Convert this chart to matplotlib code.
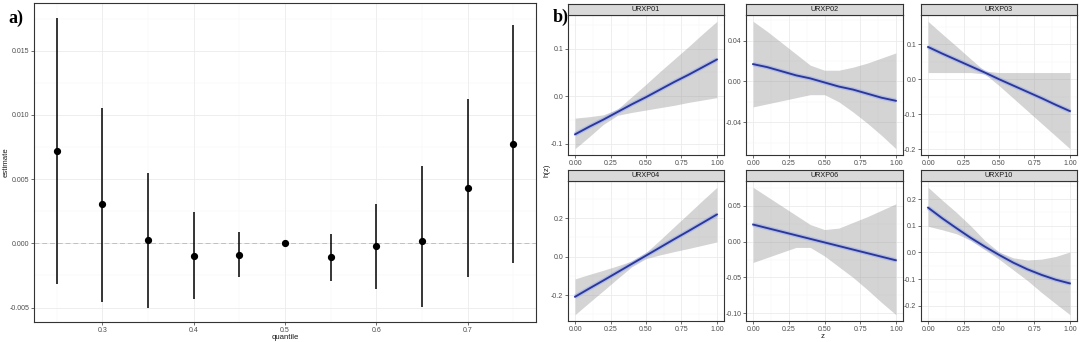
import matplotlib
matplotlib.use('Agg')
import matplotlib.pyplot as plt
from matplotlib.ticker import MultipleLocator, FixedLocator
import numpy as np

# ---------------- data: panel a ----------------
quantile = [0.25, 0.30, 0.35, 0.40, 0.45, 0.50, 0.55, 0.60, 0.65, 0.70, 0.75]
estimate = [0.00719, 0.00304, 0.00023, -0.00099, -0.00091, 0.0, -0.00109, -0.00023, 0.00016, 0.00431, 0.00771]
est_low = [-0.00319, -0.00457, -0.00500, -0.00436, -0.00262, 0.0, -0.00296, -0.00356, -0.00498, -0.00262, -0.00153]
est_high = [0.01758, 0.01057, 0.00551, 0.00244, 0.00088, 0.0, 0.00070, 0.00306, 0.00605, 0.01121, 0.01698]

# ---------------- data: panel b ----------------
z = [0.0, 0.1, 0.2, 0.3, 0.4, 0.5, 0.6, 0.7, 0.8, 0.9, 1.0]
variables = ["URXP01", "URXP02", "URXP03", "URXP04", "URXP06", "URXP10"]

urxp01_est = [-0.080, -0.064, -0.049, -0.033, -0.017, -0.002, 0.014, 0.030, 0.045, 0.061, 0.077]
urxp01_low = [-0.110, -0.085, -0.059, -0.040, -0.034, -0.029, -0.024, -0.019, -0.013, -0.008, -0.003]
urxp01_up = [-0.046, -0.043, -0.039, -0.027, -0.001, 0.025, 0.052, 0.078, 0.104, 0.131, 0.157]

urxp02_est = [0.017, 0.014, 0.010, 0.006, 0.003, -0.001, -0.005, -0.008, -0.012, -0.016, -0.019]
urxp02_low = [-0.025, -0.022, -0.019, -0.016, -0.013, -0.013, -0.020, -0.030, -0.041, -0.053, -0.066]
urxp02_up = [0.059, 0.049, 0.038, 0.027, 0.016, 0.011, 0.011, 0.014, 0.018, 0.023, 0.028]

urxp03_est = [0.092, 0.073, 0.055, 0.037, 0.019, 0.000, -0.018, -0.036, -0.054, -0.073, -0.091]
urxp03_low = [0.019, 0.019, 0.019, 0.019, 0.015, -0.018, -0.054, -0.090, -0.126, -0.162, -0.198]
urxp03_up = [0.165, 0.129, 0.094, 0.058, 0.023, 0.019, 0.019, 0.019, 0.019, 0.019, 0.019]

urxp04_est = [-0.209, -0.166, -0.124, -0.081, -0.038, 0.005, 0.048, 0.091, 0.133, 0.176, 0.219]
urxp04_low = [-0.302, -0.239, -0.177, -0.114, -0.053, -0.011, 0.009, 0.026, 0.042, 0.059, 0.076]
urxp04_up = [-0.116, -0.093, -0.071, -0.048, -0.023, 0.021, 0.087, 0.156, 0.224, 0.293, 0.360]

urxp06_est = [0.024, 0.019, 0.014, 0.009, 0.004, -0.001, -0.006, -0.011, -0.016, -0.021, -0.026]
urxp06_low = [-0.029, -0.022, -0.015, -0.008, -0.008, -0.020, -0.035, -0.050, -0.067, -0.085, -0.102]
urxp06_up = [0.076, 0.063, 0.050, 0.037, 0.024, 0.017, 0.019, 0.027, 0.035, 0.044, 0.053]

urxp10_est = [0.168, 0.128, 0.091, 0.055, 0.022, -0.009, -0.038, -0.063, -0.084, -0.102, -0.116]
urxp10_low = [0.098, 0.085, 0.070, 0.045, 0.010, -0.025, -0.065, -0.105, -0.150, -0.192, -0.233]
urxp10_up = [0.244, 0.196, 0.150, 0.100, 0.045, 0.002, -0.020, -0.028, -0.025, -0.015, 0.002]

ests = [urxp01_est, urxp02_est, urxp03_est, urxp04_est, urxp06_est, urxp10_est]
lows = [urxp01_low, urxp02_low, urxp03_low, urxp04_low, urxp06_low, urxp10_low]
ups = [urxp01_up, urxp02_up, urxp03_up, urxp04_up, urxp06_up, urxp10_up]

yticks_b = [[-0.1, 0.0, 0.1], [-0.04, 0.0, 0.04], [-0.2, -0.1, 0.0, 0.1],
            [-0.2, 0.0, 0.2], [-0.10, -0.05, 0.0, 0.05], [-0.2, -0.1, 0.0, 0.1, 0.2]]
ydec_b = [1, 2, 1, 1, 2, 1]
xticks_b = [0.0, 0.25, 0.5, 0.75, 1.0]
xticks_a = [0.3, 0.4, 0.5, 0.6, 0.7]
yticks_a = [-0.005, 0.0, 0.005, 0.010, 0.015]

# ---------------- figure ----------------
W, H = 1080, 342
plt.rcParams['font.family'] = ['Liberation Sans', 'DejaVu Sans']
fig = plt.figure(figsize=(W / 100, H / 100), dpi=100)

BORDER = '#333333'
TICKLAB = '#4D4D4D'
TITLE = '#1A1A1A'
GRID_MAJ = '#EBEBEB'
GRID_MIN = '#F4F4F4'


def ax_px(l, t, r, b):
    return fig.add_axes([l / W, 1 - b / H, (r - l) / W, (b - t) / H])


def style(ax):
    ax.set_facecolor('white')
    for s in ax.spines.values():
        s.set_color(BORDER)
        s.set_linewidth(0.8)
    ax.grid(True, which='major', color=GRID_MAJ, lw=0.6, zorder=0)
    ax.grid(True, which='minor', color=GRID_MIN, lw=0.35, zorder=0)
    ax.set_axisbelow(True)
    ax.tick_params(which='major', length=2.2, width=0.5, color=BORDER,
                   labelsize=5.0, labelcolor=TICKLAB, pad=1.2)
    ax.tick_params(which='minor', length=0)


def expand(lo, hi, f=0.05):
    d = (hi - lo) * f
    return lo - d, hi + d

# ---------------- panel a ----------------
axa = ax_px(34, 3, 536, 322)
style(axa)
axa.axhline(0, color='#C0C0C0', lw=0.7, ls=(0, (5, 3)), zorder=1)
axa.vlines(quantile, est_low, est_high, color='black', lw=1.1, zorder=2)
axa.plot(quantile, estimate, 'o', color='black', ms=4.2, zorder=3)
axa.set_xlim(*expand(min(quantile), max(quantile)))
axa.set_ylim(*expand(min(est_low), max(est_high)))
axa.xaxis.set_major_locator(FixedLocator(xticks_a))
axa.xaxis.set_minor_locator(MultipleLocator(0.05))
axa.yaxis.set_major_locator(FixedLocator(yticks_a))
axa.yaxis.set_minor_locator(MultipleLocator(0.0025))
axa.set_xticklabels([f"{v:.1f}" for v in xticks_a])
axa.set_yticklabels([f"{v:.3f}" for v in yticks_a])
fig.text(285 / W, 1 - 337.5 / H, 'quantile', fontsize=5.6, color=TITLE,
         ha='center', va='center')
fig.text(6 / W, 1 - 162 / H, 'estimate', fontsize=5.6, color=TITLE,
         rotation=90, ha='center', va='center')
fig.text(8 / W, 1 - 18 / H, 'a)', fontsize=13, fontweight='bold',
         family='Liberation Serif', va='center', ha='left')

# ---------------- panel b ----------------
col_l = [568, 746, 921]
col_r = [724, 903, 1077]
rows = [(4, 15, 155), (170, 181, 321)]
for i, name in enumerate(variables):
    r, c = divmod(i, 3)
    st, pt, pb = rows[r]
    ax = ax_px(col_l[c], pt, col_r[c], pb)
    style(ax)
    ax.fill_between(z, lows[i], ups[i], color='#999999', alpha=0.42, lw=0, zorder=1)
    ax.plot(z, ests[i], color='#8FA6F0', lw=3.2, alpha=0.5, zorder=2,
            solid_capstyle='butt')
    ax.plot(z, ests[i], color='#2B369A', lw=1.35, zorder=3)
    ax.set_xlim(*expand(min(z), max(z)))
    ax.set_ylim(*expand(min(lows[i]), max(ups[i])))
    ax.xaxis.set_major_locator(FixedLocator(xticks_b))
    ax.xaxis.set_minor_locator(MultipleLocator(0.125))
    ax.set_xticklabels([f"{v:.2f}" for v in xticks_b])
    yt = yticks_b[i]
    ax.yaxis.set_major_locator(FixedLocator(yt))
    step = yt[1] - yt[0]
    ax.yaxis.set_minor_locator(FixedLocator([v + step / 2 for v in [yt[0] - step] + yt]))
    ax.set_yticklabels([f"{v:.{ydec_b[i]}f}" for v in yt])
    # strip
    sax = ax_px(col_l[c], st, col_r[c], pt)
    sax.set_facecolor('#D9D9D9')
    sax.set_xticks([])
    sax.set_yticks([])
    for s in sax.spines.values():
        s.set_color(BORDER)
        s.set_linewidth(0.8)
    sax.text(0.5, 0.5, name, transform=sax.transAxes, ha='center', va='center',
             fontsize=5.2, color=TITLE)

fig.text(553 / W, 1 - 17 / H, 'b)', fontsize=13, fontweight='bold',
         family='Liberation Serif', va='center', ha='left')
fig.text(547 / W, 1 - 170 / H, 'h(z)', fontsize=5.6, color=TITLE,
         rotation=90, ha='center', va='center')
fig.text(823 / W, 1 - 337 / H, 'z', fontsize=5.6, color=TITLE,
         ha='center', va='center')

fig.savefig('out.png', dpi=100)
